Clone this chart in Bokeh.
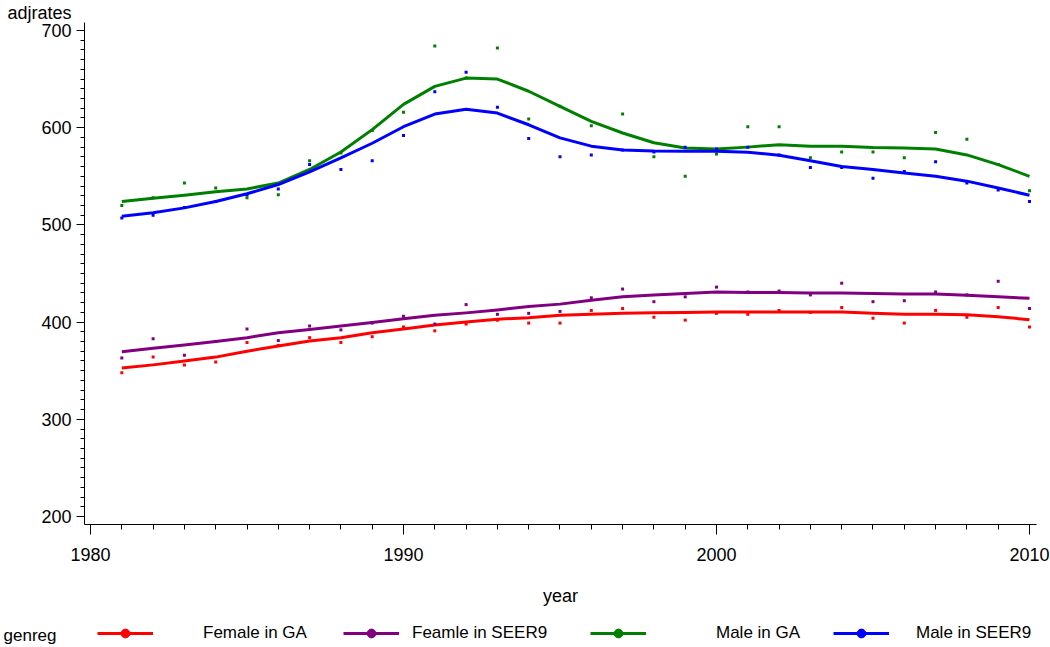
from bokeh.plotting import figure
from bokeh.layouts import column
from bokeh.models import Range1d, SingleIntervalTicker, FixedTicker, Legend, LegendItem
from bokeh.embed import file_html
from bokeh.resources import INLINE

FONT = "Liberation Sans"

# ---------------- data ----------------
years = list(range(1981, 2011))

series_names = ["Female in GA", "Feamle in SEER9", "Male in GA", "Male in SEER9"]

# observed adjusted rates (points)
female_ga_rates = [348, 364, 356, 359, 379, 376, 384, 379, 385, 395,
                   391, 398, 402, 399, 399, 412, 414, 405, 402, 409,
                   408, 412, 410, 415, 404, 399, 412, 405, 415, 395]
female_seer9_rates = [363, 383, 366, 380, 393, 381, 396, 392, 399, 406,
                      398, 418, 408, 409, 411, 425, 434, 421, 426, 436,
                      431, 432, 428, 440, 421, 422, 431, 428, 442, 414]
male_ga_rates = [520, 528, 543, 538, 528, 531, 566, 574, 597, 616,
                 684, 651, 682, 609, 622, 602, 614, 570, 550, 573,
                 601, 601, 569, 575, 575, 569, 595, 588, 562, 535]
male_seer9_rates = [507, 510, 518, 524, 531, 537, 562, 557, 566, 592,
                    637, 657, 621, 589, 570, 572, 577, 575, 580, 578,
                    580, 572, 559, 559, 548, 555, 565, 543, 536, 524]

# smoothed (loess) curves
female_ga_fit = [352.7, 356, 360, 364, 370, 375.5, 380.5, 384, 389, 393,
                 397, 400, 403, 404.5, 407, 408, 409, 409.5, 410, 410.5,
                 410.5, 410.5, 410.5, 410.5, 409, 408, 408, 407.5, 405.5, 402.5]
female_seer9_fit = [369.5, 373, 376.5, 380, 384, 389, 392.5, 396, 399.5, 403.5,
                    407, 409.5, 412.5, 416, 418.5, 422.5, 426, 428, 429.5, 431,
                    430.5, 430.5, 430, 430, 429.5, 429, 429, 427.5, 426, 424.5]
male_ga_fit = [524, 527.5, 530.5, 534, 537, 543, 557, 575, 598, 624,
               642.5, 651, 650, 637.5, 622, 606.5, 594.5, 584.5, 579, 578,
               580, 582.5, 581, 581, 579.5, 579, 578, 572, 562, 550]
male_seer9_fit = [509, 512.5, 517.5, 524, 532, 541.5, 554.5, 569, 584, 601,
                  614, 619, 615, 603, 589.5, 581, 577, 576, 575.8, 575.8,
                  574.7, 571.7, 566, 560, 557, 553.5, 550, 545, 538, 530.5]

points = [female_ga_rates, female_seer9_rates, male_ga_rates, male_seer9_rates]
fits = [female_ga_fit, female_seer9_fit, male_ga_fit, male_seer9_fit]

# ---------------- styles ----------------
colors = ["#FF0000", "#800080", "#008000", "#0000FF"]
legend_x = [13, 259, 506, 749]
legend_standoff = [50, 13, 70, 27]

p = figure(width=1050, height=614, output_backend="svg", toolbar_location=None,
           x_range=Range1d(1979.808, 2010.224), y_range=Range1d(191.8, 708.2),
           min_border_left=84, min_border_right=14, min_border_top=21,
           min_border_bottom=90, background_fill_color="white",
           border_fill_color="white")
p.outline_line_color = None
p.grid.visible = False

# "adjrates" label at the top-left, as a left-aligned title
p.title.text = "adjrates"
p.title.align = "left"
p.title.offset = -77
p.title.standoff = 0
p.title.text_font = FONT
p.title.text_font_size = "18px"
p.title.text_font_style = "normal"
p.title.text_color = "black"

p.xaxis.ticker = SingleIntervalTicker(interval=10, num_minor_ticks=10)
p.yaxis.ticker = SingleIntervalTicker(interval=100, num_minor_ticks=10)
for ax in (p.xaxis, p.yaxis):
    ax.axis_line_color = "black"
    ax.major_tick_line_color = "black"
    ax.minor_tick_line_color = "black"
    ax.major_tick_in = 0
    ax.minor_tick_in = 0
    ax.major_label_text_font = FONT
    ax.major_label_text_font_size = "18px"
    ax.major_label_text_color = "black"
p.xaxis.major_tick_out = 10
p.xaxis.minor_tick_out = 5
p.yaxis.major_tick_out = 8
p.yaxis.minor_tick_out = 4
p.xaxis.major_label_standoff = 13
p.yaxis.major_label_standoff = 5

p.xaxis.axis_label = "year"
p.xaxis.axis_label_text_font = FONT
p.xaxis.axis_label_text_font_size = "18px"
p.xaxis.axis_label_text_font_style = "normal"
p.xaxis.axis_label_text_color = "black"
p.xaxis.axis_label_standoff = 22

for i in range(len(series_names)):
    c = colors[i]
    p.line(years, fits[i], line_width=3, color=c, line_join="round")
    p.scatter(years, points[i], marker="square", size=3, fill_color=c, line_color=None)

# ---------------- legend strip ----------------
leg_fig = figure(width=1050, height=33, output_backend="svg", toolbar_location=None,
                 x_range=Range1d(0, 1), y_range=Range1d(0, 1),
                 x_axis_type=None, min_border=0,
                 min_border_left=0, min_border_right=0, min_border_top=8,
                 min_border_bottom=0, background_fill_color="white",
                 border_fill_color="white")
leg_fig.outline_line_color = None
leg_fig.grid.visible = False

# "genreg" legend heading, carried by a bare left axis of the strip
gy = leg_fig.yaxis[0]
gy.ticker = FixedTicker(ticks=[])
gy.axis_line_color = None
gy.major_tick_line_color = None
gy.minor_tick_line_color = None
gy.major_label_text_font_size = "0px"
gy.axis_label = "genreg"
gy.axis_label_orientation = "horizontal"
gy.axis_label_standoff = 28
gy.axis_label_text_font = FONT
gy.axis_label_text_font_size = "17px"
gy.axis_label_text_font_style = "normal"
gy.axis_label_text_color = "black"

# legend keys: the same series, drawn outside the strip's visible range
for i, name in enumerate(series_names):
    c = colors[i]
    key_line = leg_fig.line(years, fits[i], line_width=3, color=c)
    key_dot = leg_fig.scatter(years, fits[i], marker="circle", size=9, color=c)
    leg = Legend(items=[LegendItem(label=name, renderers=[key_line, key_dot])],
                 location=(legend_x[i], 3), orientation="horizontal",
                 glyph_width=56, glyph_height=22, label_height=22,
                 label_standoff=legend_standoff[i], padding=0, margin=0, spacing=0,
                 border_line_color=None, background_fill_alpha=0,
                 label_text_font=FONT, label_text_font_size="17px",
                 label_text_color="black")
    leg_fig.add_layout(leg)

layout = column(p, leg_fig, spacing=0)
open("out.html", "w").write(file_html(layout, INLINE))
